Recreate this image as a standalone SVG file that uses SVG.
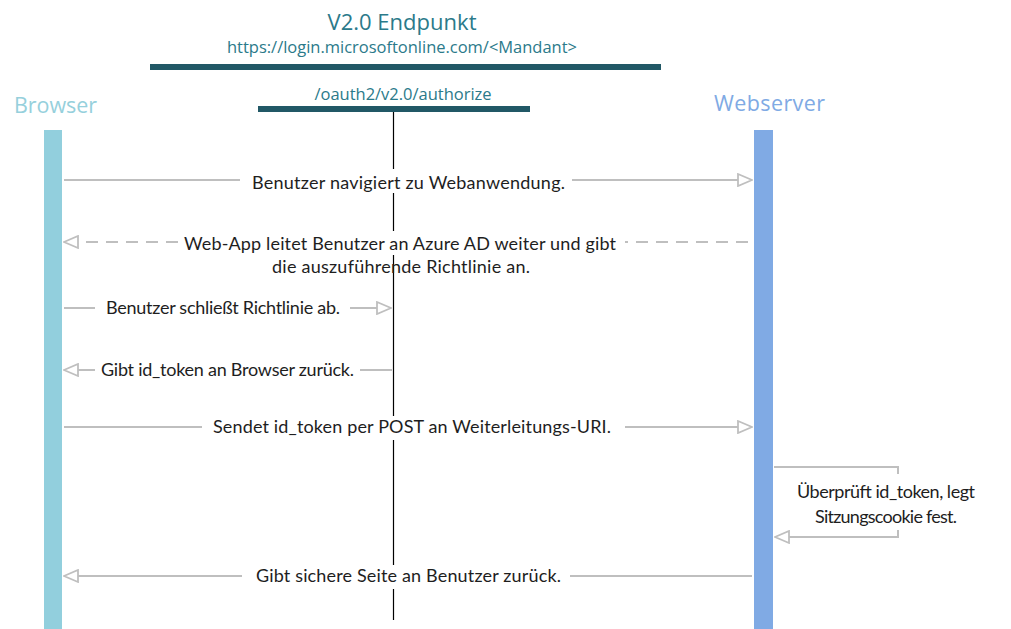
<svg xmlns="http://www.w3.org/2000/svg" width="1011" height="629" viewBox="0 0 1011 629">
<style>
.msg{font-family:Lato,"Liberation Sans",sans-serif;font-size:18px;fill:#1e1e1e;}
.hdr{font-family:"Open Sans","Noto Sans",sans-serif;fill:#2b7a8a;}
.ln{stroke:#bfbfbf;stroke-width:2;fill:none;}
.dash{stroke-dasharray:12,8;}
.bar{fill:#215866;}
</style>
<defs>
<marker id="ah" viewBox="0 0 16 14" refX="15" refY="7" markerWidth="16" markerHeight="14" markerUnits="userSpaceOnUse" orient="auto">
<path d="M1,1 L15,7 L1,13 Z" fill="#fff" stroke="#bfbfbf" stroke-width="1.8"/>
</marker>
</defs>
<rect width="1011" height="629" fill="#fff"/>

<g id="endpoint">
<text class="hdr" x="402" y="30" font-size="22" text-anchor="middle" textLength="149">V2.0 Endpunkt</text>
<text class="hdr" x="402" y="53" font-size="16.5" text-anchor="middle" textLength="350">https://login.microsoftonline.com/&lt;Mandant&gt;</text>
<rect class="bar" x="150" y="64" width="511" height="6"/>
<text class="hdr" x="403" y="100" font-size="16.5" text-anchor="middle" textLength="177">/oauth2/v2.0/authorize</text>
<rect class="bar" x="258" y="106" width="272" height="6"/>
<line x1="393.5" y1="112" x2="393.5" y2="620" stroke="#000" stroke-width="1.2"/>
</g>

<g id="browser">
<text x="14" y="113" font-family="'Open Sans','Noto Sans',sans-serif" font-size="21.5" fill="#96d0dc" textLength="83">Browser</text>
<rect x="44" y="130" width="18" height="499" fill="#92cfdd"/>
</g>

<g id="webserver">
<text x="714" y="111" font-family="'Open Sans','Noto Sans',sans-serif" font-size="21.5" fill="#80aae4" textLength="111">Webserver</text>
<rect x="754" y="130" width="19" height="499" fill="#80aae4"/>
</g>

<g id="connectors">
<!-- 1 -->
<line class="ln" x1="64" y1="180" x2="240" y2="180"/>
<rect x="244" y="169" width="328" height="24" fill="#fff"/>
<line class="ln" x1="572" y1="180" x2="752" y2="180" marker-end="url(#ah)"/>
<!-- 2 -->
<line class="ln dash" x1="748" y1="242" x2="625" y2="242"/>
<rect x="178" y="231" width="444" height="24" fill="#fff"/>
<line class="ln dash" x1="178" y1="242" x2="64" y2="242" marker-end="url(#ah)"/>
<!-- 3 -->
<line class="ln" x1="64" y1="308" x2="95" y2="308"/>
<line class="ln" x1="350" y1="308" x2="391" y2="308" marker-end="url(#ah)"/>
<!-- 4 -->
<line class="ln" x1="392" y1="370" x2="360" y2="370"/>
<line class="ln" x1="95" y1="370" x2="64" y2="370" marker-end="url(#ah)"/>
<!-- 5 -->
<line class="ln" x1="64" y1="427" x2="202" y2="427"/>
<rect x="206" y="416" width="414" height="24" fill="#fff"/>
<line class="ln" x1="625" y1="427" x2="752" y2="427" marker-end="url(#ah)"/>
<!-- self -->
<polyline class="ln" points="774,467 898,467 898,474"/>
<polyline class="ln" points="898,530 898,537 775,537" marker-end="url(#ah)"/>
<!-- 6 -->
<line class="ln" x1="752" y1="576" x2="570" y2="576"/>
<rect x="247" y="565" width="320" height="24" fill="#fff"/>
<line class="ln" x1="242" y1="576" x2="64" y2="576" marker-end="url(#ah)"/>
</g>

<g id="labels">
<text class="msg" x="252" y="189" textLength="313">Benutzer navigiert zu Webanwendung.</text>
<text class="msg" x="184" y="250" textLength="432">Web-App leitet Benutzer an Azure AD weiter und gibt</text>
<text class="msg" x="272" y="273" textLength="258">die auszuführende Richtlinie an.</text>
<text class="msg" x="106" y="314" textLength="234">Benutzer schließt Richtlinie ab.</text>
<text class="msg" x="101" y="376" textLength="253">Gibt id_token an Browser zurück.</text>
<text class="msg" x="213" y="433" textLength="398">Sendet id_token per POST an Weiterleitungs-URI.</text>
<text class="msg" x="797" y="498" textLength="178">Überprüft id_token, legt</text>
<text class="msg" x="815" y="523" textLength="142">Sitzungscookie fest.</text>
<text class="msg" x="256" y="582" textLength="305">Gibt sichere Seite an Benutzer zurück.</text>
</g>
</svg>
